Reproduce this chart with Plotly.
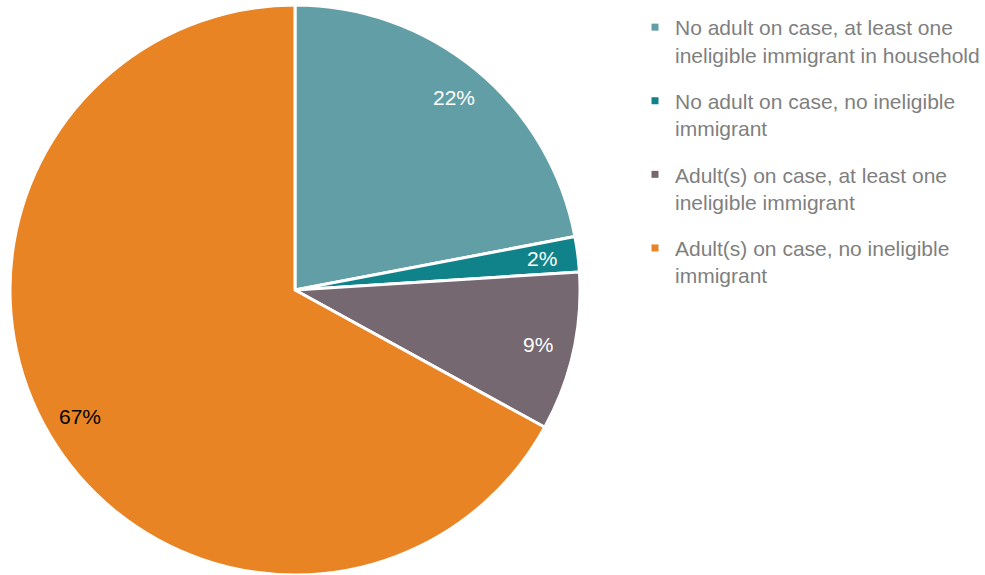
import math
import plotly.graph_objects as go

labels = [
    "No adult on case, at least one<br>ineligible immigrant in household",
    "No adult on case, no ineligible<br>immigrant",
    "Adult(s) on case, at least one<br>ineligible immigrant",
    "Adult(s) on case, no ineligible<br>immigrant",
]
values = [22, 2, 9, 67]
colors = ["#629ea5", "#10838a", "#756870", "#e98425"]
label_colors = ["white", "white", "white", "black"]

W, H = 985, 575
cx, cy, r = 295, 290, 285
FONT = "Liberation Sans, Arial"

fig = go.Figure()
fig.add_trace(go.Pie(
    labels=labels,
    values=values,
    sort=False,
    direction="clockwise",
    rotation=0,
    marker=dict(colors=colors, line=dict(color="white", width=3)),
    textinfo="none",
    hoverinfo="label+percent",
    showlegend=False,
    domain=dict(x=[(cx - r) / W, (cx + r) / W], y=[(H - cy - r) / H, (H - cy + r) / H]),
))

# legend entries (one per slice, same colours)
for i, (lab, col) in enumerate(zip(labels, colors)):
    fig.add_trace(go.Scatter(
        x=[None], y=[None], mode="markers", name=lab,
        marker=dict(symbol="square", size=7, color=col),
        legendgroup=f"g{i}", hoverinfo="skip",
    ))

# percentage labels placed along each slice's mid-angle
total = sum(values)
cum = 0
for v, c in zip(values, label_colors):
    mid = (cum + v / 2) / total * 2 * math.pi
    cum += v
    px = cx + 0.875 * r * math.sin(mid)
    py = cy - 0.875 * r * math.cos(mid)
    fig.add_annotation(
        x=px / W, y=1 - py / H, xref="paper", yref="paper",
        xanchor="center", yanchor="middle",
        text=f"{round(v / total * 100)}%", showarrow=False,
        font=dict(family=FONT, size=21, color=c),
    )

fig.update_layout(
    width=W, height=H,
    margin=dict(l=0, r=0, t=0, b=0),
    paper_bgcolor="white",
    plot_bgcolor="white",
    font=dict(family=FONT, size=21, color="#7f7f7f"),
    xaxis=dict(visible=False, domain=[0.99, 1]),
    yaxis=dict(visible=False, domain=[0.99, 1]),
    legend=dict(
        x=635 / W, y=1 - 7 / H, xanchor="left", yanchor="top",
        valign="top",
        font=dict(size=21, color="#7f7f7f"),
        itemwidth=30,
        itemsizing="trace",
        tracegroupgap=16,
    ),
)

fig.write_html("out.html", config={"displayModeBar": False},
               post_script="document.body.style.margin='0';")
